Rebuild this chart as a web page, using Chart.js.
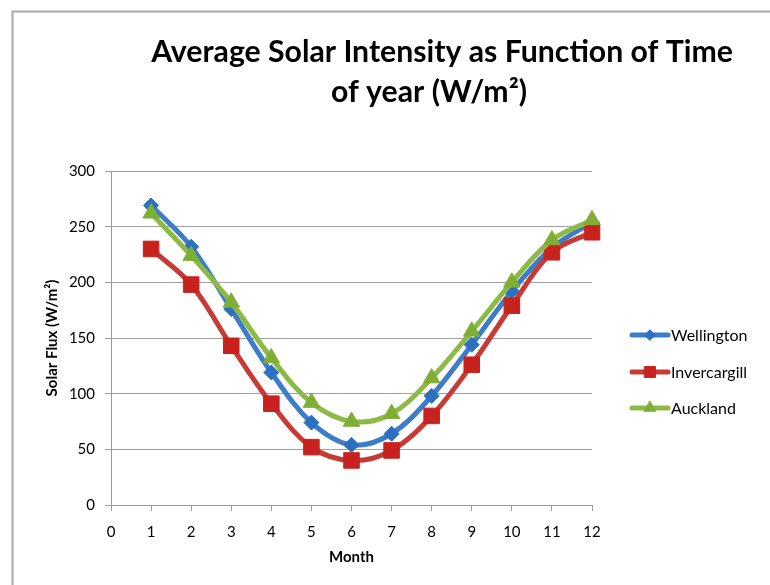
<!DOCTYPE html>
<html><head><meta charset="utf-8">
<script src="https://cdn.jsdelivr.net/npm/chart.js@4"></script>
<style>html,body{margin:0;padding:0;background:#fff}#wrap{width:770px;height:585px;position:relative}</style>
</head><body><div id="wrap"><canvas id="c" width="770" height="585"></canvas></div>
<script>
const months = [1,2,3,4,5,6,7,8,9,10,11,12];
const wellington = [269,232,176,119,74,54,64,98,144,192,231,254];
const invercargill = [230,198,143,91,52,40,49,80,126,179,227,245];
const auckland = [262,224,182,132,92,75,82,114,156,200,238,256];
const seriesNames = ['Wellington','Invercargill','Auckland'];
const titleLines = ['Average Solar Intensity as Function of Time','of year (W/m²)'];
const xAxisTitle = 'Month';
const yAxisTitle = 'Solar Flux (W/m²)';

const FONT = 'Lato, "Open Sans", sans-serif';
const styles = [
  {line:'#3d7cc6', fill:'#2d6fc0', shape:'rectRot', r:7.5, order:2},
  {line:'#c63b35', fill:'#c8221f', shape:'rect', r:11, order:1},
  {line:'#8dba45', fill:'#7fae35', shape:'triangle', r:9.5, order:0}
];
const values = [wellington, invercargill, auckland];

const datasets = values.map((vals,i)=>({
  label: seriesNames[i],
  data: months.map((m,j)=>({x:m, y:vals[j]})),
  borderColor: styles[i].line,
  backgroundColor: styles[i].fill,
  pointBackgroundColor: styles[i].fill,
  pointBorderColor: styles[i].fill,
  pointBorderWidth: 1,
  pointStyle: styles[i].shape,
  pointRadius: styles[i].r,
  borderWidth: 5,
  tension: 0.35,
  order: styles[i].order,
  clip: false
}));

const decor = {
  id: 'decor',
  beforeDraw(chart){
    const ctx = chart.ctx;
    ctx.save();
    ctx.fillStyle = '#fff';
    ctx.fillRect(0,0,chart.width,chart.height);
    ctx.strokeStyle = '#a8a8a8';
    ctx.lineWidth = 2;
    ctx.strokeRect(12.5, 11.5, 820, 640);
    ctx.restore();
  },
  afterDraw(chart){
    const ctx = chart.ctx;
    ctx.save();
    // title
    let size = 30;
    ctx.font = `bold ${size}px ${FONT}`;
    const w = ctx.measureText(titleLines[0]).width;
    size = size * 582 / w;
    ctx.font = `bold ${size}px ${FONT}`;
    ctx.fillStyle = '#000';
    ctx.textAlign = 'center';
    ctx.textBaseline = 'middle';
    ctx.fillText(titleLines[0], 442, 52);
    ctx.fillText(titleLines[1], 429, 92);
    // legend
    const ly = [335, 372, 408];
    ctx.font = `16px ${FONT}`;
    ctx.textAlign = 'left';
    seriesNames.forEach((n,i)=>{
      const s = styles[i];
      ctx.strokeStyle = s.line;
      ctx.lineWidth = 5;
      ctx.lineCap = 'round';
      ctx.beginPath(); ctx.moveTo(632, ly[i]); ctx.lineTo(668, ly[i]); ctx.stroke();
      ctx.fillStyle = s.fill;
      ctx.strokeStyle = s.fill;
      ctx.lineWidth = 1;
      Chart.helpers.drawPoint(ctx, {pointStyle:s.shape, radius:s.r*0.7, borderWidth:1}, 650, ly[i]);
      ctx.fillStyle = '#000';
      ctx.fillText(n, 671, ly[i]+1);
    });
    ctx.restore();
  }
};

new Chart(document.getElementById('c'), {
  type: 'line',
  data: {datasets},
  options: {
    responsive: false,
    animation: false,
    events: [],
    layout: {padding: {left: 0, top: 171, right: 178, bottom: 0}},
    plugins: {legend:{display:false}, title:{display:false}, tooltip:{enabled:false}},
    scales: {
      x: {
        type: 'linear', min: 0, max: 12,
        ticks: {stepSize: 1, color:'#000', font:{family:FONT, size:15}, padding: 12, maxRotation:0},
        grid: {display:true, drawOnChartArea:false, drawTicks:true, tickLength:6, color:'#9a9a9a', lineWidth:1},
        border: {display:true, color:'#9a9a9a', width:1},
        title: {display:true, text:xAxisTitle, color:'#000', font:{family:FONT, size:15, weight:'bold'}, padding:{top:0, bottom:19}},
        afterFit(s){ s.height = 80; }
      },
      y: {
        min: 0, max: 300,
        ticks: {stepSize: 50, color:'#000', font:{family:FONT, size:15}, padding: 10},
        grid: {display:true, drawOnChartArea:true, drawTicks:true, tickLength:6, color:'#a0a0a0', lineWidth:1},
        border: {display:true, color:'#9a9a9a', width:1},
        title: {display:true, text:yAxisTitle, color:'#000', font:{family:FONT, size:15, weight:'bold'}, padding:{top:43, bottom:0}},
        afterFit(s){ s.width = 111; }
      }
    }
  },
  plugins: [decor]
});
</script>
</body></html>
